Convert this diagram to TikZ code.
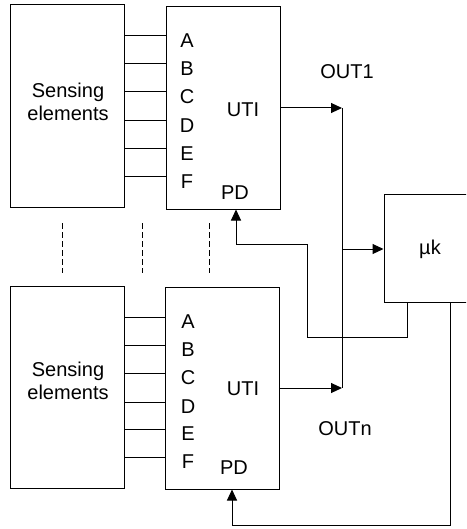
\documentclass[tikz,border=0pt]{standalone}
\usepackage{fontspec}
\setmainfont{Liberation Sans}
\usetikzlibrary{arrows.meta,calc}
\begin{document}
\begin{tikzpicture}[x=1pt,y=-1pt,
  every node/.style={font=\fontsize{20}{23}\selectfont},
  blk/.style={draw, line width=1pt, rectangle, inner sep=0pt, minimum width=114pt, minimum height=202pt},
  lbl/.style={inner sep=0pt},
  wire/.style={line width=1pt},
  arr/.style={line width=1pt, -{Triangle[length=11pt,width=10pt]}},
  dashline/.style={line width=1pt, dash pattern=on 6pt off 3pt}]
\useasboundingbox (0,0) rectangle (466,529);
\clip (0,0) rectangle (466,529);
% boxes
\node[blk] (se1) at (67,106) {};
\node[blk] (uti1) at (223,108) {};
\node[blk] (se2) at (67,387) {};
\node[blk] (uti2) at (222.5,388) {};
\node[blk, minimum width=92pt, minimum height=107pt] (mk) at (430,248.5) {};
% box texts
\node[lbl, align=center] (se1t) at (68,102) {Sensing\\elements};
\node[lbl, align=center] (se2t) at (68,381) {Sensing\\elements};
\node[lbl] (uti1t) at (243,110) {UTI};
\node[lbl] (uti2t) at (243,389) {UTI};
\node[lbl] (pd1) at (235,193) {PD};
\node[lbl] (pd2) at (234,468) {PD};
\node[lbl] (mkt) at (430,249) {µk};
\node[lbl] (out1) at (347,72) {OUT1};
\node[lbl] (outn) at (345,429) {OUTn};
% channel labels and wires, top
\foreach \n/\y in {A/36,B/64,C/92,D/121,E/149,F/177}{
  \node[lbl] (t\n) at (187,\y+5) {\n};
  \draw[wire] (se1.east |- 0,\y) -- (uti1.west |- 0,\y);
}
% channel labels and wires, bottom
\foreach \n/\y in {A/317,B/345,C/373,D/402,E/429,F/457}{
  \node[lbl] (b\n) at (188,\y+5) {\n};
  \draw[wire] (se2.east |- 0,\y) -- (uti2.west |- 0,\y);
}
% dashed continuation lines
\foreach \x in {62,142,209}{
  \draw[dashline] (\x,223) -- (\x,273);
}
% bus
\coordinate (bustop) at (342,108);
\coordinate (busbot) at (342,388);
\draw[wire] (bustop) -- (busbot);
\draw[arr] (uti1.east |- bustop) -- (bustop);
\draw[arr] (uti2.east |- busbot) -- (busbot);
\draw[arr] (342,249) -- (mk.west |- 0,249);
% feedback to PD of top UTI
\draw[arr] (mk.south -| 407,0) -- (407,337) -- (307,337) -- (307,244) -- (236,244) -- (uti1.south -| 236,0);
% feedback to PD of bottom UTI
\draw[arr] (mk.south -| 450,0) -- (450,525) -- (232,525) -- (uti2.south -| 232,0);
\end{tikzpicture}
\end{document}
